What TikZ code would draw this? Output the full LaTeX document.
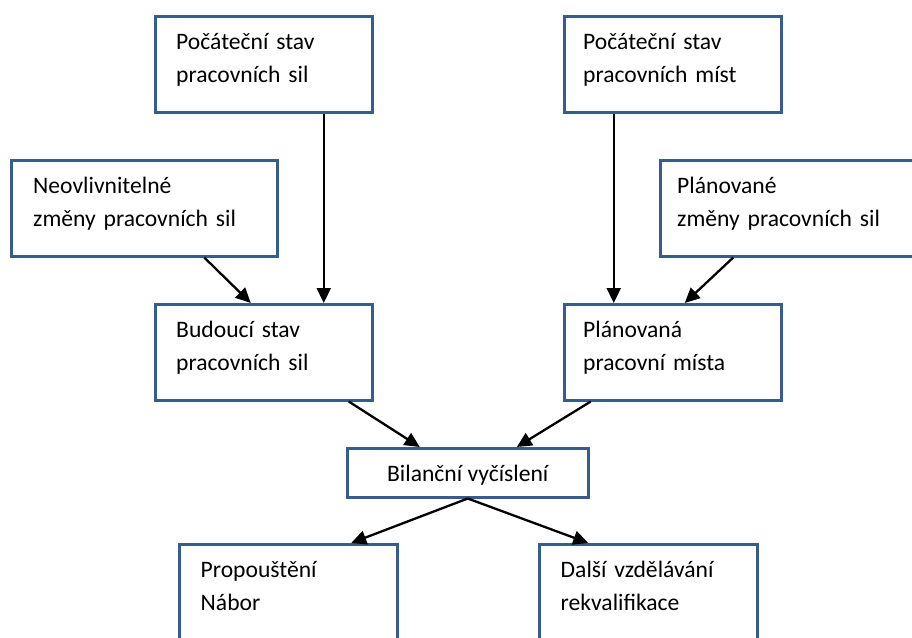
\documentclass[tikz,border=0pt]{standalone}
\usepackage{fontspec}
\setmainfont{Carlito}
\usetikzlibrary{arrows.meta}
\definecolor{boxblue}{HTML}{385D8A}
\begin{document}
\begin{tikzpicture}[x=1pt,y=-1pt,
  box/.style={draw=boxblue, line width=2.5pt, fill=white, inner sep=0pt, anchor=north west, minimum width=217pt, minimum height=96pt},
  txt/.style={anchor=base west, inner sep=0pt, align=left, text width=260pt, font=\fontsize{23.6}{33}\selectfont},
  txtc/.style={anchor=base, inner sep=0pt, font=\fontsize{23.6}{33}\selectfont},
  arr/.style={line width=2.3pt, -{Triangle[length=15pt,width=14pt]}}]
\useasboundingbox (0,0) rectangle (912,637);
\clip (0,0) rectangle (912,637);
\fill[white] (0,0) rectangle (912,637);
% boxes
\node[box] (A) at (154,15) {};
\node[box] (B) at (563,15) {};
\node[box, minimum width=266pt] (C) at (10,159) {};
\node[box, minimum width=266pt] (D) at (659,159) {};
\node[box] (E) at (154,303) {};
\node[box] (F) at (563,303) {};
\node[box, minimum width=241pt, minimum height=49pt] (G) at (346,447) {};
\node[box, minimum width=218pt, minimum height=120pt] (H) at (178,543) {};
\node[box, minimum width=218pt, minimum height=120pt] (I) at (538,543) {};
% texts
\node[txt] (At) at ([xshift=22pt,yshift=-34.5pt]A.north west) {Počáteční stav\\pracovních sil};
\node[txt] (Bt) at ([xshift=20pt,yshift=-34.5pt]B.north west) {Počáteční stav\\pracovních míst};
\node[txt] (Ct) at ([xshift=23pt,yshift=-34.5pt]C.north west) {Neovlivnitelné\\změny pracovních sil};
\node[txt] (Dt) at ([xshift=18pt,yshift=-34.5pt]D.north west) {Plánované\\změny pracovních sil};
\node[txt] (Et) at ([xshift=22pt,yshift=-34pt]E.north west) {Budoucí stav\\pracovních sil};
\node[txt] (Ft) at ([xshift=20pt,yshift=-34pt]F.north west) {Plánovaná\\pracovní místa};
\node[txtc] (Gt) at ([yshift=-34pt]G.north) {Bilanční vyčíslení};
\node[txt] (Ht) at ([xshift=22.5pt,yshift=-34pt]H.north west) {Propouštění\\Nábor};
\node[txt] (It) at ([xshift=22.5pt,yshift=-34pt]I.north west) {Další vzdělávání\\rekvalifikace};
% arrows
\draw[arr] ([xshift=60pt]A.south) -- ([xshift=60pt]E.north);
\draw[arr] ([xshift=-59pt]B.south) -- ([xshift=-59pt]F.north);
\draw[arr] ([xshift=60pt]C.south) -- ([xshift=-13pt]E.north);
\draw[arr] ([xshift=-60pt]D.south) -- ([xshift=12pt]F.north);
\draw[arr] ([xshift=85pt]E.south) -- ([xshift=-48pt]G.north);
\draw[arr] ([xshift=-82pt]F.south) -- ([xshift=49pt]G.north);
\draw[arr] (G.south) -- ([xshift=63pt]H.north);
\draw[arr] (G.south) -- ([xshift=-60pt]I.north);
\end{tikzpicture}
\end{document}
